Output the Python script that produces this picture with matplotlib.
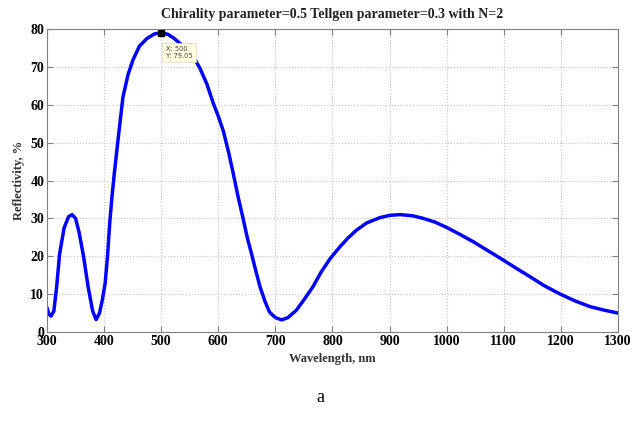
import numpy as np
import matplotlib
matplotlib.use('Agg')
import matplotlib.pyplot as plt

# values
wavelength = [300, 303, 307, 312, 317, 322, 330, 338, 344, 350, 356, 364, 372, 380, 386,
              392, 397, 402, 406, 410, 414, 418, 425, 433, 442, 451, 462, 475, 488, 500,
              512, 522, 533, 545, 556, 568, 580, 591, 600, 609, 618, 626, 635, 644, 651,
              658, 666, 673, 682, 690, 700, 711, 722, 737, 750, 766, 780, 796, 813, 827,
              842, 860, 883, 900, 918, 940, 959, 980, 1000, 1023, 1047, 1072, 1099, 1120,
              1146, 1170, 1199, 1225, 1251, 1275, 1300]
reflect = [6.5, 4.8, 4.2, 5.5, 12, 20.5, 27.5, 30.5, 31, 30, 26.5, 20, 12, 5.5, 3.3,
           5, 8.5, 13, 20, 29, 36, 42, 51.5, 62, 68, 72, 75.5, 77.5, 78.7, 79.05,
           78.6, 77.6, 76.2, 74.8, 72.8, 69.6, 65.5, 60.5, 57, 53, 47.5, 42, 35.5, 29.6, 24.8,
           20.8, 16, 12, 8, 5.2, 3.8, 3.2, 3.8, 5.8, 8.5, 12, 15.8, 19.4, 22.5, 24.8,
           26.9, 28.8, 30.2, 30.8, 31, 30.7, 30, 29, 27.6, 25.8, 23.8, 21.5, 19, 17,
           14.6, 12.3, 10, 8.2, 6.7, 5.8, 5]
tip_x, tip_y = 500, 79.05

plt.rcParams['font.family'] = 'Liberation Serif'
plt.rcParams['font.weight'] = 'bold'

fig = plt.figure(figsize=(6.4, 4.21), dpi=100)
ax = fig.add_axes([0.0734, 0.2114, 0.8922, 0.7196])

ax.plot(wavelength, reflect, color='#0000ff', linewidth=2.5,
        solid_joinstyle='round', solid_capstyle='round')
ax.plot([tip_x], [tip_y], 's', color='black', markersize=4)
ax.text(tip_x + 8, tip_y - 3.5, 'X: 500\nY: 79.05', fontsize=4.8, fontweight='normal',
        va='top', ha='left', family='DejaVu Sans', color='#444444',
        bbox=dict(boxstyle='square,pad=0.5', fc='#ffffe0', ec='#d8d8c0', lw=0.5))

ax.set_xlim(300, 1300)
ax.set_ylim(0, 80)
ax.set_xticks(np.arange(300, 1301, 100))
ax.set_yticks(np.arange(0, 81, 10))
ax.grid(True, linestyle=':', color='#c4c4c4', linewidth=0.8)
ax.tick_params(direction='in', top=True, right=True, labelsize=10, length=4,
               color='#808080', pad=2)
for s in ax.spines.values():
    s.set_color('#808080')

ax.set_title('Chirality parameter=0.5 Tellgen parameter=0.3 with N=2',
             fontsize=10, fontweight='bold', color='#222222', pad=8)
ax.set_xlabel('Wavelength, nm', fontsize=9, fontweight='bold', color='#333333', labelpad=4)
ax.set_ylabel('Reflectivity, %', fontsize=9, fontweight='bold', color='#333333', labelpad=4)

fig.text(0.5, 0.035, 'a', fontsize=13, fontweight='normal', ha='center', va='bottom')

fig.savefig('out.png', dpi=100)
